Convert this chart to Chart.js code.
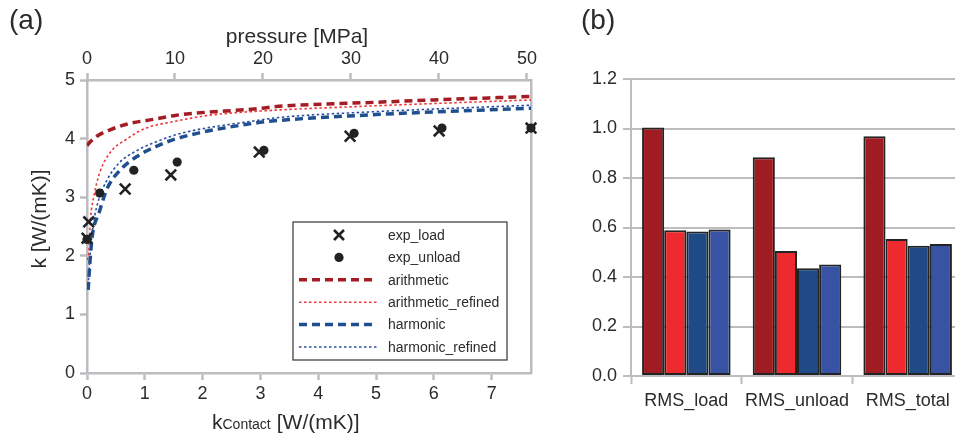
<!DOCTYPE html>
<html>
<head>
<meta charset="utf-8">
<script src="https://cdn.jsdelivr.net/npm/chart.js@4"></script>
<style>
  html, body { margin: 0; padding: 0; background: #fff; overflow: hidden; width: 955px; height: 436px; }
  body { position: relative; font-family: "Liberation Sans", Arial, sans-serif; color: #2b2b2b; }
  #wrapA { position: absolute; left: 0; top: 0; width: 560px; height: 436px; }
  #wrapB { position: absolute; left: 560px; top: 0; width: 440px; height: 436px; }
  .tag { position: absolute; top: 6px; font-size: 28px; line-height: 1; color: #2b2b2b; }
</style>
</head>
<body>
<div id="wrapA"><canvas id="chartA" width="560" height="436"></canvas></div>
<div id="wrapB"><canvas id="chartB" width="440" height="436"></canvas></div>
<div class="tag" style="left:9px">(a)</div>
<div class="tag" style="left:581px">(b)</div>
<script>
// ---- panel (a): measured points, kContact vs k
const loadK = [0.0, 0.03, 0.66, 1.45, 2.98, 4.55, 6.09, 7.68];
const loadVal = [2.30, 2.58, 3.14, 3.38, 3.77, 4.04, 4.13, 4.18];
const unloadK = [0.0, 0.22, 0.81, 1.56, 3.06, 4.62, 6.14, 7.68];
const unloadVal = [2.28, 3.07, 3.46, 3.60, 3.80, 4.09, 4.18, 4.18];

// model curves
const arithK = [0, 0.04, 0.17, 0.4, 0.7, 1.16, 1.55, 2.94, 3.32, 5, 6, 7.68];
const arithVal = [3.88, 3.93, 4.04, 4.15, 4.25, 4.33, 4.40, 4.51, 4.55, 4.62, 4.66, 4.72];
const arithRefK = [0, 0.03, 0.06, 0.12, 0.22, 0.4, 0.7, 1.0, 1.55, 2.13, 3.0, 5, 7.68];
const arithRefVal = [1.93, 2.05, 2.62, 3.02, 3.42, 3.76, 4.0, 4.17, 4.30, 4.40, 4.47, 4.56, 4.66];
const harmK = [0.02, 0.05, 0.09, 0.21, 0.35, 0.58, 0.87, 1.16, 1.55, 2.94, 3.32, 5, 7.68];
const harmVal = [1.42, 1.88, 2.33, 2.74, 3.15, 3.47, 3.70, 3.85, 4.00, 4.27, 4.31, 4.41, 4.52];
const harmRefK = [0.02, 0.06, 0.12, 0.2, 0.35, 0.55, 0.87, 1.16, 1.55, 2.94, 3.32, 5, 7.68];
const harmRefVal = [1.50, 2.10, 2.60, 2.95, 3.30, 3.58, 3.80, 3.93, 4.07, 4.31, 4.36, 4.46, 4.57];

// tick labels
const kTicks = [0, 1, 2, 3, 4, 5, 6, 7];
const pressureTicks = [0, 10, 20, 30, 40, 50];

// ---- panel (b): RMS errors
const rmsLabels = ['RMS_load', 'RMS_unload', 'RMS_total'];
const rmsArith = [1.004, 0.884, 0.969];
const rmsArithRef = [0.589, 0.505, 0.554];
const rmsHarm = [0.584, 0.435, 0.526];
const rmsHarmRef = [0.592, 0.451, 0.533];

const textCol = '#2b2b2b';
const axisGray = '#bcbcc1';
const fontFam = '"Liberation Sans", Arial, sans-serif';

function pts(xs, ys) {
  return xs.map((x, i) => ({ x: x, y: ys[i] }));
}

// legend box + axis titles for panel (a)
const panelA = {
  id: 'panelA',
  afterDraw(chart) {
    const ctx = chart.ctx;
    const a = chart.chartArea;
    ctx.save();
    ctx.fillStyle = textCol;

    // top title
    ctx.font = '21px ' + fontFam;
    ctx.textAlign = 'center';
    ctx.textBaseline = 'alphabetic';
    ctx.fillText('pressure [MPa]', 297, 43);

    // y title
    ctx.save();
    ctx.translate(46, 219);
    ctx.rotate(-Math.PI / 2);
    ctx.fillText('k [W/(mK)]', 0, 0);
    ctx.restore();

    // bottom title with small "Contact"
    ctx.textAlign = 'left';
    let x = 212;
    ctx.font = '21px ' + fontFam;
    ctx.fillText('k', x, 429);
    x += ctx.measureText('k').width;
    ctx.font = '14px ' + fontFam;
    ctx.fillText('Contact', x, 429);
    x += ctx.measureText('Contact').width + 6;
    ctx.font = '21px ' + fontFam;
    ctx.fillText('[W/(mK)]', x, 429);

    // legend box
    const bx = a.left + 206, by = a.top + 142, bw = 214, bh = 138;
    ctx.fillStyle = '#fff';
    ctx.fillRect(bx, by, bw, bh);
    ctx.strokeStyle = '#444';
    ctx.lineWidth = 1.3;
    ctx.strokeRect(bx, by, bw, bh);

    ctx.font = '14px ' + fontFam;
    ctx.textBaseline = 'middle';
    chart.data.datasets.forEach((ds, i) => {
      const y = by + 13 + i * 22.4;
      const mx = bx + 46;
      if (ds.showLine) {
        ctx.save();
        ctx.strokeStyle = ds.borderColor;
        ctx.lineWidth = ds.borderWidth;
        ctx.setLineDash(ds.borderDash);
        ctx.beginPath();
        ctx.moveTo(bx + 6, y);
        ctx.lineTo(bx + 84, y);
        ctx.stroke();
        ctx.restore();
      } else if (ds.pointStyle === 'crossRot') {
        ctx.save();
        ctx.strokeStyle = ds.borderColor;
        ctx.lineWidth = ds.borderWidth;
        const r = 5;
        ctx.beginPath();
        ctx.moveTo(mx - r, y - r); ctx.lineTo(mx + r, y + r);
        ctx.moveTo(mx - r, y + r); ctx.lineTo(mx + r, y - r);
        ctx.stroke();
        ctx.restore();
      } else {
        ctx.beginPath();
        ctx.fillStyle = ds.backgroundColor;
        ctx.arc(mx, y, ds.pointRadius, 0, Math.PI * 2);
        ctx.fill();
      }
      ctx.fillStyle = textCol;
      ctx.fillText(ds.label, bx + 95, y + 1);
    });
    ctx.restore();
  }
};

const tickFont = { family: fontFam, size: 18 };
const edgeGrid = { drawOnChartArea: false, tickLength: 7, tickWidth: 2.5, tickColor: axisGray };
const edgeBorder = { color: axisGray, width: 2.5 };

new Chart(document.getElementById('chartA'), {
  type: 'scatter',
  data: {
    datasets: [
      { label: 'exp_load', data: pts(loadK, loadVal), pointStyle: 'crossRot', pointRadius: 7.5,
        borderColor: '#222', backgroundColor: '#222', borderWidth: 2.6, clip: false },
      { label: 'exp_unload', data: pts(unloadK, unloadVal), pointStyle: 'circle', pointRadius: 4.6,
        borderColor: '#222', backgroundColor: '#222', borderWidth: 0, clip: false },
      { label: 'arithmetic', data: pts(arithK, arithVal), showLine: true, pointRadius: 0,
        borderColor: '#a51d24', borderWidth: 3.5, borderDash: [8, 5], cubicInterpolationMode: 'monotone' },
      { label: 'arithmetic_refined', data: pts(arithRefK, arithRefVal), showLine: true, pointRadius: 0,
        borderColor: '#f0363a', borderWidth: 1.6, borderDash: [2.5, 2.5], cubicInterpolationMode: 'monotone' },
      { label: 'harmonic', data: pts(harmK, harmVal), showLine: true, pointRadius: 0,
        borderColor: '#1f4f8f', borderWidth: 3.5, borderDash: [8, 5], cubicInterpolationMode: 'monotone' },
      { label: 'harmonic_refined', data: pts(harmRefK, harmRefVal), showLine: true, pointRadius: 0,
        borderColor: '#2b4ea3', borderWidth: 1.6, borderDash: [2.5, 2.5], cubicInterpolationMode: 'monotone' }
    ]
  },
  options: {
    responsive: false,
    animation: false,
    devicePixelRatio: 1,
    events: [],
    layout: { padding: { left: 0, right: 29, top: 0, bottom: 0 } },
    plugins: { legend: { display: false }, tooltip: { enabled: false } },
    scales: {
      x: {
        type: 'linear', position: 'bottom', min: 0, max: 7.68,
        ticks: { color: textCol, font: tickFont, padding: 3, maxRotation: 0 },
        grid: edgeGrid, border: edgeBorder,
        afterBuildTicks: s => { s.ticks = kTicks.map(v => ({ value: v })); },
        afterFit: s => { s.height = 63; }
      },
      x2: {
        type: 'linear', position: 'top', min: 0, max: 50.46,
        ticks: { color: textCol, font: tickFont, padding: 3, maxRotation: 0 },
        grid: edgeGrid, border: edgeBorder,
        afterBuildTicks: s => { s.ticks = pressureTicks.map(v => ({ value: v })); },
        afterFit: s => { s.height = 80; }
      },
      y: {
        type: 'linear', position: 'left', min: 0, max: 5,
        ticks: { stepSize: 1, color: textCol, font: tickFont, padding: 5 },
        grid: edgeGrid, border: edgeBorder,
        afterFit: s => { s.width = 87; }
      },
      y2: {
        type: 'linear', position: 'right', min: 0, max: 5,
        ticks: { display: false },
        grid: { drawOnChartArea: false, drawTicks: false },
        border: edgeBorder,
        afterFit: s => { s.width = 0; }
      }
    }
  },
  plugins: [panelA]
});

// ---- panel (b)
const barBorder = '#232323';
new Chart(document.getElementById('chartB'), {
  type: 'bar',
  data: {
    labels: rmsLabels,
    datasets: [
      { label: 'arithmetic', data: rmsArith, backgroundColor: '#a01c22' },
      { label: 'arithmetic_refined', data: rmsArithRef, backgroundColor: '#ee2a2e' },
      { label: 'harmonic', data: rmsHarm, backgroundColor: '#1f4a85' },
      { label: 'harmonic_refined', data: rmsHarmRef, backgroundColor: '#3853a4' }
    ]
  },
  options: {
    responsive: false,
    animation: false,
    devicePixelRatio: 1,
    events: [],
    layout: { padding: { left: 0, right: 37, top: 79, bottom: 0 } },
    datasets: {
      bar: { categoryPercentage: 0.8, barPercentage: 1.0, borderColor: barBorder, borderWidth: 2, borderSkipped: false }
    },
    plugins: { legend: { display: false }, tooltip: { enabled: false } },
    scales: {
      x: {
        ticks: { color: textCol, font: tickFont, padding: 6, maxRotation: 0 },
        grid: { offset: true, drawOnChartArea: false, tickLength: 8, tickWidth: 2, tickColor: axisGray },
        border: { color: axisGray, width: 2 },
        afterFit: s => { s.height = 60; }
      },
      y: {
        min: 0, max: 1.2,
        ticks: { stepSize: 0.2, color: textCol, font: tickFont, padding: 6, callback: v => v.toFixed(1) },
        grid: { color: axisGray, lineWidth: 2, tickLength: 8, tickWidth: 2, tickColor: axisGray },
        border: { color: axisGray, width: 2 },
        afterFit: s => { s.width = 71; }
      }
    }
  }
});
</script>
</body>
</html>
